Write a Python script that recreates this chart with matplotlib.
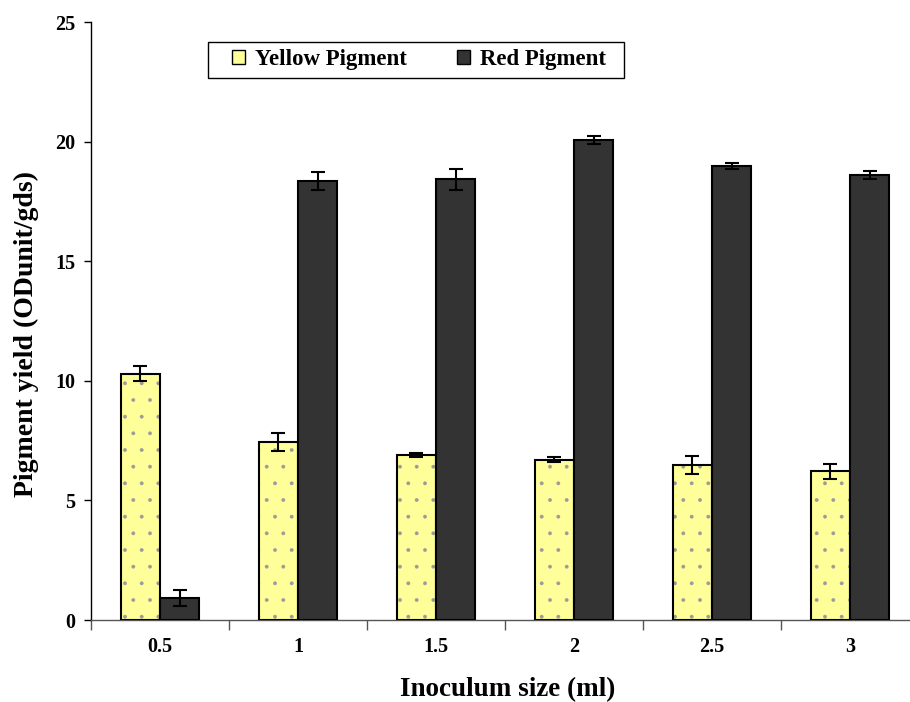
import matplotlib
matplotlib.use("Agg")
import matplotlib.pyplot as plt
import numpy as np
from matplotlib.patches import Patch, Rectangle

categories = ["0.5", "1", "1.5", "2", "2.5", "3"]
yellow = [10.3, 7.45, 6.9, 6.7, 6.47, 6.22]
yellow_err = [0.3, 0.37, 0.1, 0.1, 0.38, 0.32]
red = [0.92, 18.35, 18.42, 20.05, 18.98, 18.6]
red_err = [0.32, 0.37, 0.45, 0.17, 0.12, 0.17]

plt.rcParams['font.family'] = ['Liberation Serif', 'DejaVu Serif']
plt.rcParams['font.weight'] = 'bold'
plt.rcParams['hatch.linewidth'] = 0.3

fig = plt.figure(figsize=(9.10, 7.02), dpi=100)
ax = fig.add_axes([91/910, 82/702, 828/910, 598/702])

x = np.arange(len(categories))
w = 0.285
ycol = "#FFFF99"
rcol = "#333333"

# Yellow bars with gray dot pattern
ax.bar(x - w/2, yellow, w, color=ycol, edgecolor="#9a9a9a", hatch=".", linewidth=0, zorder=2)
ax.bar(x - w/2, yellow, w, fill=False, edgecolor="black", linewidth=1.5, zorder=3)
ax.bar(x + w/2, red, w, color=rcol, edgecolor="black", linewidth=1.5, zorder=3)

ax.errorbar(x - w/2, yellow, yerr=yellow_err, fmt='none', ecolor='black',
            elinewidth=1.5, capsize=5, capthick=1.5, zorder=4)
ax.errorbar(x + w/2, red, yerr=red_err, fmt='none', ecolor='black',
            elinewidth=1.5, capsize=5, capthick=1.5, zorder=4)

ax.set_xlim(-0.5, len(categories) - 0.5)
ax.set_ylim(0, 25)
ax.set_yticks([0, 5, 10, 15, 20, 25])
ax.set_xticks(x)
ax.set_xticklabels(categories)
ax.set_xticks(np.arange(len(categories) + 1) - 0.5, minor=True)
ax.tick_params(axis='x', which='major', length=0, pad=12.5, labelsize=14.5)
ax.tick_params(axis='x', which='minor', length=7, width=1, direction='out', color='#555555')
ax.tick_params(axis='y', which='major', length=5, width=1, direction='out', labelsize=14.5, pad=6)

for s in ['top', 'right']:
    ax.spines[s].set_visible(False)
ax.spines['left'].set_linewidth(1)
ax.spines['bottom'].set_linewidth(1)
ax.spines['bottom'].set_color('#555555')

ax.set_ylabel("Pigment yield (ODunit/gds)", fontsize=20, fontweight='bold', va='center')
ax.yaxis.set_label_coords((26 - 91) / 828, (620 - 334) / 598)
ax.set_xlabel("Inoculum size (ml)", fontsize=19.5, fontweight='bold', va='center')
ax.xaxis.set_label_coords((508 - 91) / 828, (620 - 690) / 598)

# legend frame
fig.patches.append(Rectangle((208/910, 1 - 78/702), (624-208)/910, 36/702,
                             transform=fig.transFigure, facecolor='white',
                             edgecolor='black', linewidth=1, zorder=5))
handles = [Patch(facecolor=ycol, edgecolor='black', linewidth=1),
           Patch(facecolor=rcol, edgecolor='black', linewidth=1)]
leg = fig.legend(handles, ["Yellow Pigment", "Red Pigment"], ncol=2,
                 loc='center left', bbox_to_anchor=(232/910, 1 - 60/702),
                 frameon=False, borderpad=0, borderaxespad=0,
                 prop={'size': 16.5, 'weight': 'bold'},
                 handlelength=0.55, handleheight=0.55, handletextpad=0.45,
                 columnspacing=2.2)
leg.set_zorder(6)

fig.savefig("out.png", dpi=100)
